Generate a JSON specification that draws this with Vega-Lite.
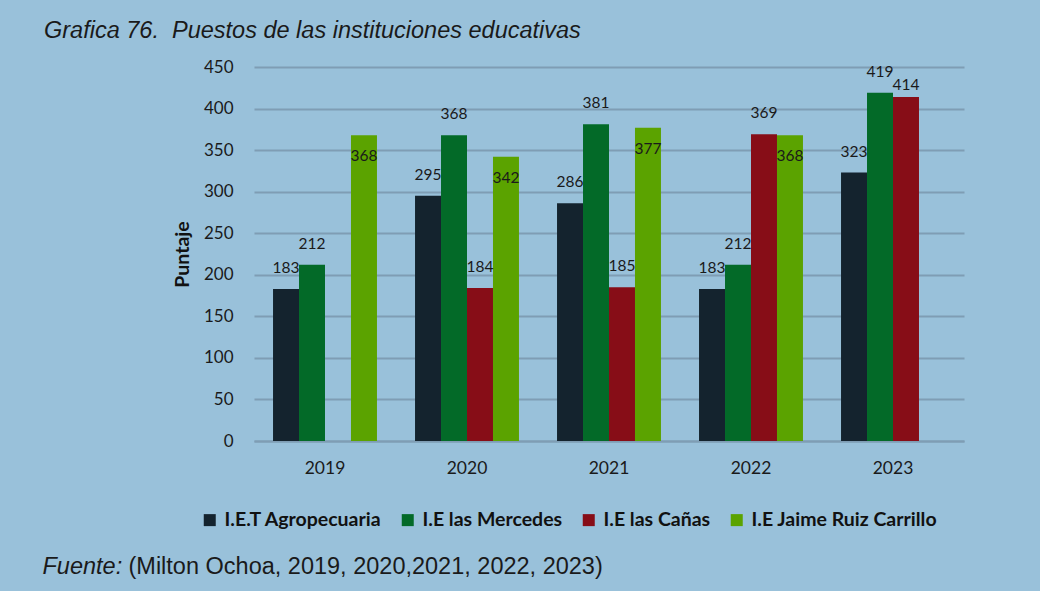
{
  "$schema": "https://vega.github.io/schema/vega-lite/v6.json",
  "width": 710,
  "height": 374,
  "autosize": {"type": "none"},
  "padding": {"left": 254, "top": 67, "right": 76, "bottom": 150},
  "background": "#99C1DA",
  "title": {
    "text": "Grafica 76.\u00a0 Puestos de las instituciones educativas",
    "anchor": "start",
    "frame": "group",
    "dx": -210,
    "offset": -3,
    "baseline": "alphabetic",
    "font": "Liberation Sans",
    "fontStyle": "italic",
    "fontWeight": "normal",
    "fontSize": 23.5,
    "color": "#1a1a1a"
  },
  "data": {
    "values": [
      {"Año": "2019", "Institucion": "I.E.T Agropecuaria", "Puntaje": 183},
      {"Año": "2019", "Institucion": "I.E las Mercedes", "Puntaje": 212},
      {"Año": "2019", "Institucion": "I.E Jaime Ruiz Carrillo", "Puntaje": 368},
      {"Año": "2020", "Institucion": "I.E.T Agropecuaria", "Puntaje": 295},
      {"Año": "2020", "Institucion": "I.E las Mercedes", "Puntaje": 368},
      {"Año": "2020", "Institucion": "I.E las Cañas", "Puntaje": 184},
      {"Año": "2020", "Institucion": "I.E Jaime Ruiz Carrillo", "Puntaje": 342},
      {"Año": "2021", "Institucion": "I.E.T Agropecuaria", "Puntaje": 286},
      {"Año": "2021", "Institucion": "I.E las Mercedes", "Puntaje": 381},
      {"Año": "2021", "Institucion": "I.E las Cañas", "Puntaje": 185},
      {"Año": "2021", "Institucion": "I.E Jaime Ruiz Carrillo", "Puntaje": 377},
      {"Año": "2022", "Institucion": "I.E.T Agropecuaria", "Puntaje": 183},
      {"Año": "2022", "Institucion": "I.E las Mercedes", "Puntaje": 212},
      {"Año": "2022", "Institucion": "I.E las Cañas", "Puntaje": 369},
      {"Año": "2022", "Institucion": "I.E Jaime Ruiz Carrillo", "Puntaje": 368},
      {"Año": "2023", "Institucion": "I.E.T Agropecuaria", "Puntaje": 323},
      {"Año": "2023", "Institucion": "I.E las Mercedes", "Puntaje": 419},
      {"Año": "2023", "Institucion": "I.E las Cañas", "Puntaje": 414}
    ]
  },
  "encoding": {
    "x": {
      "field": "Año",
      "type": "nominal",
      "scale": {"paddingInner": 0.268, "paddingOuter": 0.134}
    },
    "xOffset": {
      "field": "Institucion",
      "type": "nominal",
      "scale": {
        "domain": ["I.E.T Agropecuaria", "I.E las Mercedes", "I.E las Cañas", "I.E Jaime Ruiz Carrillo"],
        "paddingInner": 0,
        "paddingOuter": 0
      }
    },
    "y": {
      "field": "Puntaje",
      "type": "quantitative",
      "scale": {"domain": [0, 450], "nice": false},
      "axis": {
        "values": [0, 50, 100, 150, 200, 250, 300, 350, 400, 450],
        "title": "Puntaje",
        "titleFont": "Lato",
        "titleFontWeight": "bold",
        "titleFontSize": 19.5,
        "titleColor": "#111111",
        "titlePadding": 11,
        "labelFont": "Lato",
        "labelFontSize": 17,
        "labelColor": "#1a1a1a",
        "labelPadding": 21,
        "ticks": false,
        "domain": false,
        "grid": true,
        "gridColor": "#7F9DB4",
        "gridWidth": 2
      }
    }
  },
  "layer": [
    {
      "mark": {"type": "bar"},
      "encoding": {
        "x": {
          "field": "Año",
          "type": "nominal",
          "axis": {
            "orient": "bottom",
            "title": "Fuente:",
            "titleFont": "Liberation Sans",
            "titleFontStyle": "italic",
            "titleFontWeight": "normal",
            "titleFontSize": 23.5,
            "titleColor": "#1a1a1a",
            "titleX": -212,
            "titleY": 132,
            "titleAlign": "left",
            "titleBaseline": "alphabetic",
            "titleAnchor": null,
            "labelAngle": 0,
            "labelFont": "Lato",
            "labelFontSize": 17.5,
            "labelColor": "#1a1a1a",
            "labelPadding": 18,
            "ticks": false,
            "domainColor": "#7F9DB4",
            "domainWidth": 2,
            "grid": false
          }
        },
        "color": {
          "field": "Institucion",
          "type": "nominal",
          "scale": {
            "domain": ["I.E.T Agropecuaria", "I.E las Mercedes", "I.E las Cañas", "I.E Jaime Ruiz Carrillo"],
            "range": ["#14232E", "#036A28", "#870D17", "#5BA300"]
          },
          "legend": {
            "title": null,
            "orient": "none",
            "direction": "horizontal",
            "legendX": -54,
            "legendY": 443,
            "padding": 0,
            "symbolType": "square",
            "symbolSize": 144,
            "symbolStrokeWidth": 0,
            "symbolOpacity": 1,
            "labelFont": "Lato",
            "labelFontWeight": "bold",
            "labelFontSize": 19.5,
            "labelColor": "#111111",
            "labelOffset": 5,
            "columnPadding": 16,
            "labelLimit": 400,
            "labelExpr": "datum.label === 'I.E Jaime Ruiz Carrillo' ? '\u00a0\u00a0\u00a0' + datum.label : datum.label"
          }
        }
      }
    },
    {
      "transform": [{"filter": "datum.Institucion !== 'I.E Jaime Ruiz Carrillo' && datum.Puntaje !== 414"}],
      "mark": {"type": "text", "baseline": "middle", "dy": -21, "font": "Lato", "fontSize": 15.5, "color": "#1a1a1a"},
      "encoding": {
        "x": {
          "field": "Año",
          "type": "nominal",
          "axis": {
            "orient": "bottom",
            "title": "(Milton Ochoa, 2019, 2020,2021, 2022, 2023)",
            "titleFont": "Liberation Sans",
            "titleFontStyle": "normal",
            "titleFontWeight": "normal",
            "titleFontSize": 23.5,
            "titleColor": "#1a1a1a",
            "titleX": -126,
            "titleY": 132,
            "titleAlign": "left",
            "titleBaseline": "alphabetic",
            "titleAnchor": null,
            "labels": false,
            "ticks": false,
            "domain": false,
            "grid": false
          }
        },
        "text": {"field": "Puntaje", "type": "quantitative"}
      }
    },
    {
      "transform": [{"filter": "datum.Institucion === 'I.E Jaime Ruiz Carrillo'"}],
      "mark": {"type": "text", "baseline": "middle", "dy": 21, "font": "Lato", "fontSize": 15.5, "color": "#1a1a1a"},
      "encoding": {
        "x": {"field": "Año", "type": "nominal", "axis": null},
        "text": {"field": "Puntaje", "type": "quantitative"}
      }
    },
    {
      "transform": [{"filter": "datum.Puntaje === 414"}],
      "mark": {"type": "text", "baseline": "middle", "dy": -12, "font": "Lato", "fontSize": 15.5, "color": "#1a1a1a"},
      "encoding": {
        "x": {"field": "Año", "type": "nominal", "axis": null},
        "text": {"field": "Puntaje", "type": "quantitative"}
      }
    }
  ],
  "resolve": {"axis": {"x": "independent"}},
  "config": {
    "view": {"stroke": null},
    "axis": {"labelAngle": 0}
  }
}
